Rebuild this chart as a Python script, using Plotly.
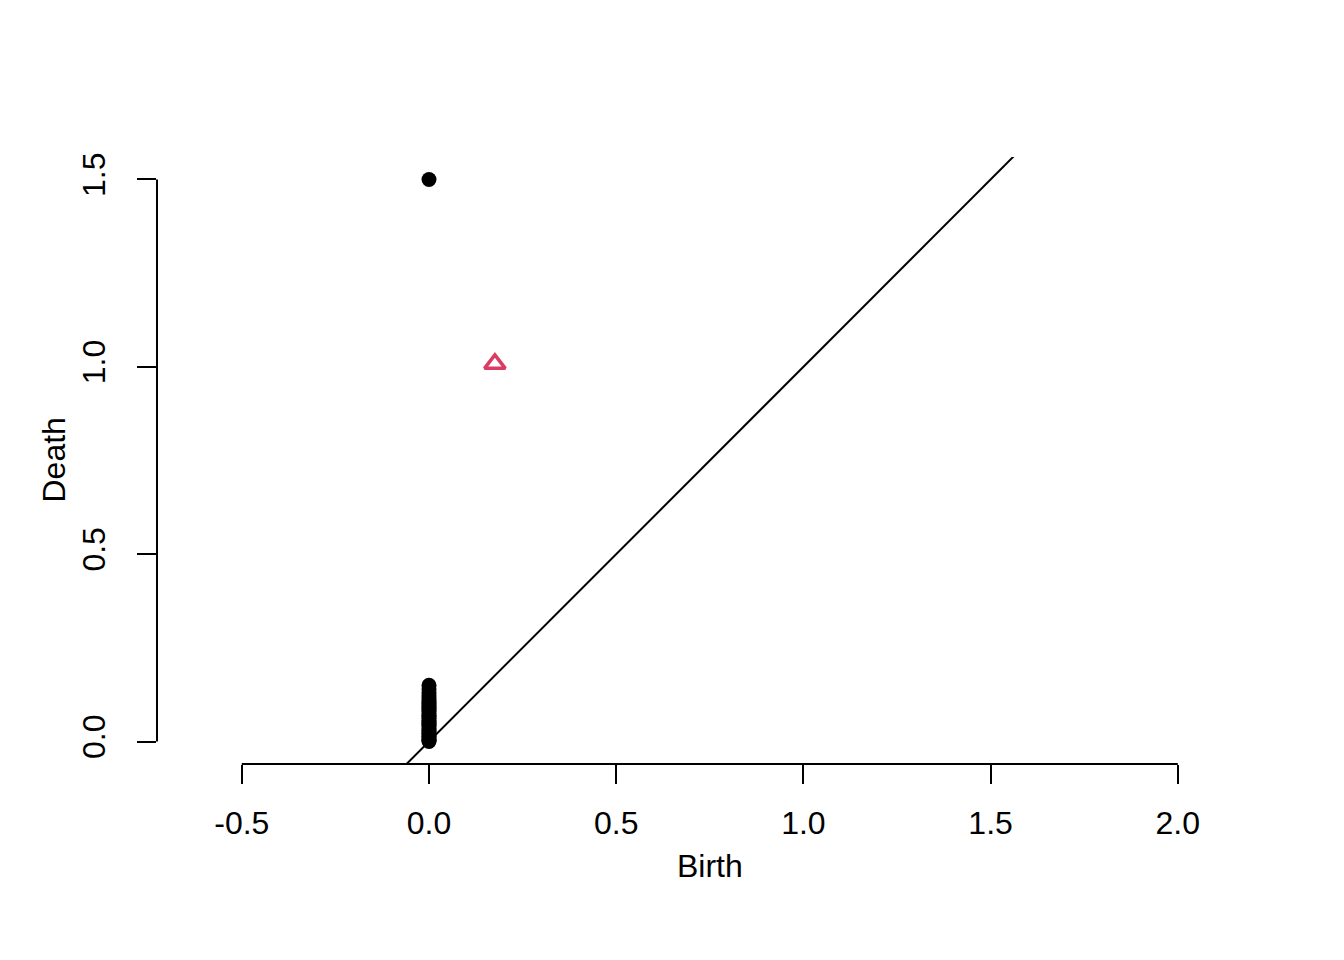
import plotly.graph_objects as go

# persistence diagram: dimension 0 (black dots) and dimension 1 (red triangle)
dim0_birth = [0.0] * 31
dim0_death = [0.0, 0.003, 0.006, 0.01, 0.014, 0.018, 0.022, 0.026, 0.03, 0.035,
              0.04, 0.044, 0.048, 0.052, 0.057, 0.062, 0.066, 0.07, 0.075, 0.08,
              0.085, 0.09, 0.095, 0.1, 0.105, 0.11, 0.116, 0.122, 0.13, 0.14, 0.15]
inf_birth = [0.0]
inf_death = [1.5]
dim1_birth = [0.176]
dim1_death = [1.008]

diag = [-1.0, 3.0]
x_ticks = [-0.5, 0.0, 0.5, 1.0, 1.5, 2.0]
y_ticks = [0.0, 0.5, 1.0, 1.5]

font = dict(family="Liberation Sans, Arial, Helvetica", size=32, color="black")

fig = go.Figure()
fig.add_trace(go.Scatter(x=diag, y=diag, mode="lines",
                         line=dict(color="black", width=2)))
fig.add_trace(go.Scatter(x=dim0_birth + inf_birth, y=dim0_death + inf_death,
                         mode="markers",
                         marker=dict(color="black", size=15, line=dict(width=0))))
fig.add_trace(go.Scatter(x=dim1_birth, y=dim1_death, mode="markers",
                         marker=dict(symbol="triangle-up-open", size=18,
                                     color="#DC3C62", line=dict(width=3.5, color="#DC3C62"))))

axis_common = dict(showgrid=False, zeroline=False, showline=False,
                   ticks="outside", ticklen=19, tickwidth=2, tickcolor="black",
                   tickfont=font)

fig.update_xaxes(range=[-0.7265, 2.2276], tickvals=x_ticks,
                 ticktext=["%.1f" % v for v in x_ticks],
                 ticklabelstandoff=12, **axis_common)
fig.update_yaxes(range=[-0.06, 1.56], tickvals=y_ticks,
                 ticktext=["%.1f" % v for v in y_ticks],
                 tickangle=-90, ticklabelstandoff=19, **axis_common)

# R-style axis lines that only span the tick range
fig.add_shape(type="line", xref="x", yref="paper", x0=min(x_ticks), x1=max(x_ticks),
              y0=0, y1=0, line=dict(color="black", width=2))
fig.add_shape(type="line", xref="paper", yref="y", x0=0, x1=0,
              y0=min(y_ticks), y1=max(y_ticks), line=dict(color="black", width=2))

fig.add_annotation(text="Birth", xref="paper", yref="paper", x=0.5, y=0,
                   xanchor="center", yanchor="middle", yshift=-102,
                   showarrow=False, font=font)
fig.add_annotation(text="Death", xref="paper", yref="paper", x=0, y=0.5,
                   xanchor="center", yanchor="middle", xshift=-104, textangle=-90,
                   showarrow=False, font=font)

# page body has an 8px margin, so the figure is shrunk by that amount
fig.update_layout(width=1336, height=952, showlegend=False,
                  plot_bgcolor="white", paper_bgcolor="white",
                  margin=dict(l=149, r=81, t=149, b=196))

fig.write_html("out.html")
